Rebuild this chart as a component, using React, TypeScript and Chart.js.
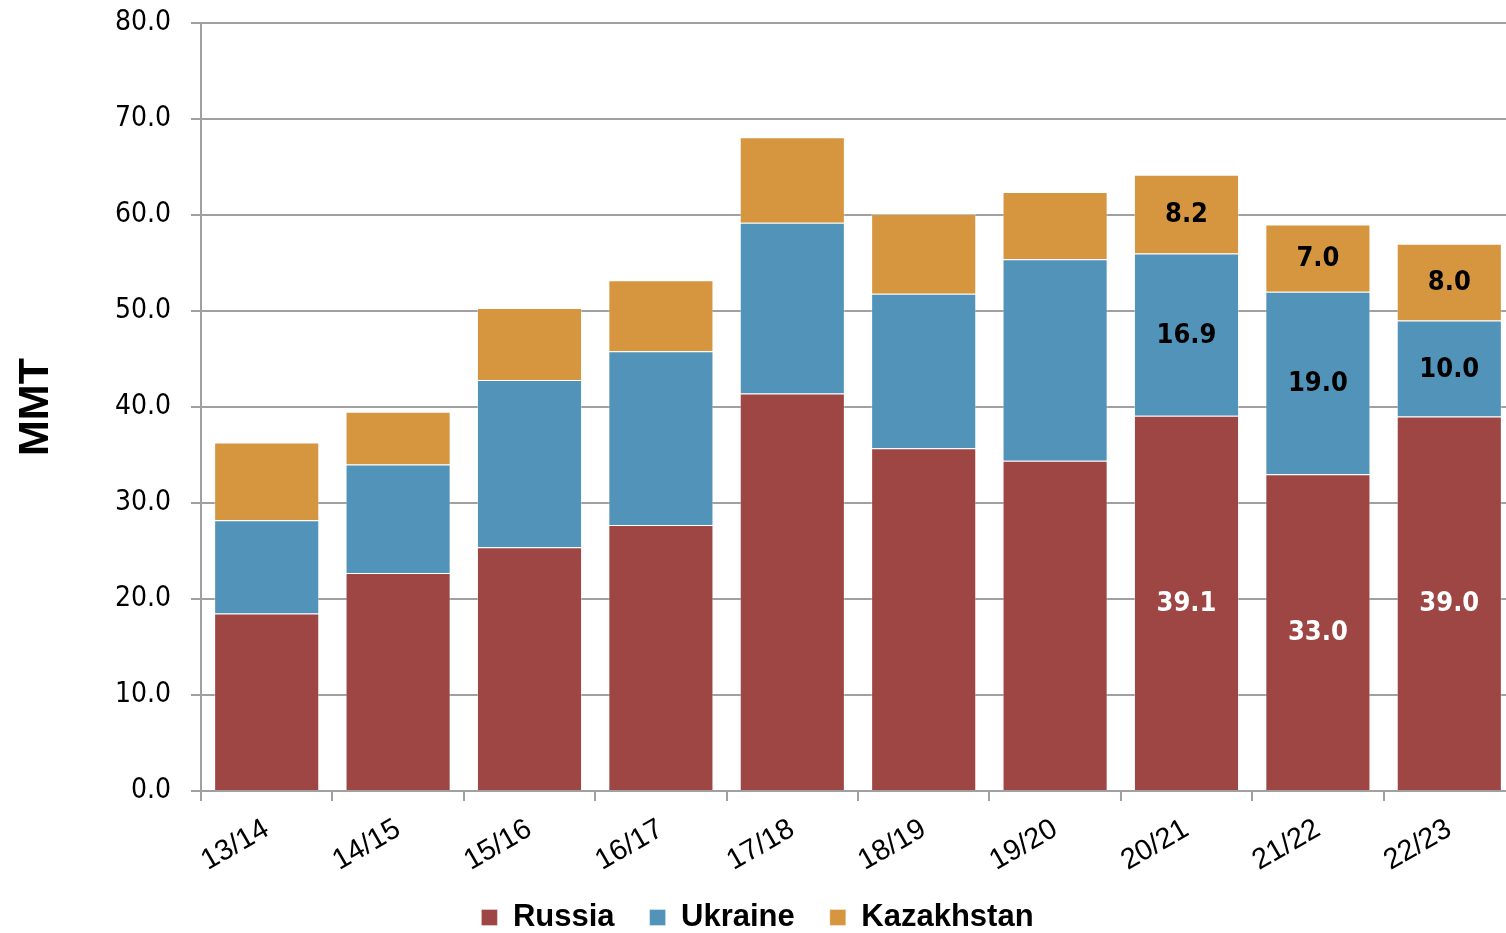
import React, { useEffect, useRef } from "react";
import { Chart, registerables } from "chart.js";

Chart.register(...registerables);

const categories = ["13/14", "14/15", "15/16", "16/17", "17/18", "18/19", "19/20", "20/21", "21/22", "22/23"];
const russia = [18.5, 22.7, 25.4, 27.7, 41.4, 35.7, 34.4, 39.1, 33.0, 39.0];
const ukraine = [9.7, 11.3, 17.4, 18.1, 17.8, 16.1, 21.0, 16.9, 19.0, 10.0];
const kazakhstan = [8.1, 5.5, 7.5, 7.4, 8.9, 8.3, 7.0, 8.2, 7.0, 8.0];
const labelledCategories = ["20/21", "21/22", "22/23"];
const yTicks = [0, 10, 20, 30, 40, 50, 60, 70, 80];

const NARROW = '"Liberation Sans Narrow", "DejaVu Sans Condensed", sans-serif';
const SANS = '"Liberation Sans", Arial, sans-serif';
const GRID = "#A0A0A0";

const labelPlugin = {
  id: "segLabels",
  afterDatasetsDraw(chart: any) {
    const ctx = chart.ctx;
    ctx.save();
    ctx.font = `bold 27px ${NARROW}`;
    ctx.textAlign = "center";
    ctx.textBaseline = "middle";
    chart.data.datasets.forEach((ds: any, di: number) => {
      const meta = chart.getDatasetMeta(di);
      chart.data.labels.forEach((lab: string, idx: number) => {
        if (!labelledCategories.includes(lab)) return;
        const bar = meta.data[idx];
        const { x, y, base } = bar.getProps(["x", "y", "base"], true);
        ctx.fillStyle = di === 0 ? "#FFFFFF" : "#000000";
        ctx.fillText(Number(ds.data[idx]).toFixed(1), x, (y + base) / 2 + 1);
      });
    });
    ctx.restore();
  },
};

export default function App() {
  const ref = useRef<HTMLCanvasElement | null>(null);
  useEffect(() => {
    if (!ref.current) return;
    const chart = new Chart(ref.current, {
      type: "bar",
      data: {
        labels: categories,
        datasets: [
          { label: "Russia", data: russia, backgroundColor: "#9E4643", borderColor: "rgba(255,255,255,0.35)", borderWidth: 1 },
          { label: "Ukraine", data: ukraine, backgroundColor: "#5293B9", borderColor: "rgba(255,255,255,0.35)", borderWidth: 1 },
          { label: "Kazakhstan", data: kazakhstan, backgroundColor: "#D6963F", borderColor: "rgba(255,255,255,0.35)", borderWidth: 1 },
        ],
      },
      options: {
        animation: false,
        responsive: true,
        maintainAspectRatio: false,
        datasets: { bar: { categoryPercentage: 0.8, barPercentage: 1.0 } },
        layout: { padding: { top: 23, right: 15, bottom: 0, left: 0 } },
        plugins: {
          tooltip: { enabled: false },
          legend: {
            position: "bottom",
            labels: {
              boxWidth: 16,
              boxHeight: 16,
              padding: 35,
              color: "#000",
              font: { family: SANS, size: 31, weight: "bold" },
            },
          },
        },
        scales: {
          x: {
            stacked: true,
            afterFit: (s: any) => {
              s.height = 76;
              s._computeLabelArea = () => undefined;
            },
            grid: { drawOnChartArea: false, drawTicks: true, tickLength: 10, color: GRID, lineWidth: 2 },
            border: { color: GRID, width: 2 },
            ticks: {
              color: "#000",
              minRotation: 30,
              maxRotation: 30,
              padding: 11,
              font: { family: SANS, size: 29 },
            },
          },
          y: {
            stacked: true,
            min: 0,
            max: 80,
            afterFit: (s: any) => {
              s.width = 201;
              s.paddingTop = 0;
              s.paddingBottom = 0;
            },
            afterBuildTicks: (s: any) => { s.ticks = yTicks.map((v) => ({ value: v })); },
            grid: { color: GRID, lineWidth: 2, tickLength: 10, drawTicks: true },
            border: { color: GRID, width: 2 },
            ticks: {
              color: "#000",
              padding: 20,
              font: { family: NARROW, size: 28 },
              callback: (v: any) => Number(v).toFixed(1),
            },
            title: {
              display: true,
              text: "MMT",
              color: "#000",
              padding: { top: 10, bottom: 0 },
              font: { family: SANS, size: 43, weight: "bold" },
            },
          },
        },
      },
      plugins: [labelPlugin],
    });
    return () => chart.destroy();
  }, []);
  return (
    <div style={{ position: "absolute", left: 0, top: 0, width: 1506, height: 933, overflow: "hidden", background: "#fff" }}>
      <div style={{ position: "relative", width: 1530, height: 943 }}>
        <canvas ref={ref} />
      </div>
    </div>
  );
}
